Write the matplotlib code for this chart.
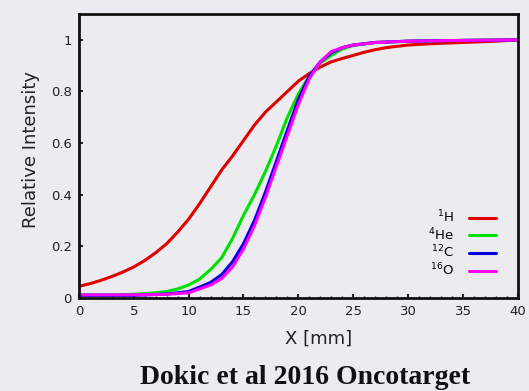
import matplotlib
matplotlib.use("Agg")
import matplotlib.pyplot as plt
from matplotlib.ticker import MultipleLocator

# Data
x_h = [0, 1, 2, 3, 4, 5, 6, 7, 8, 9, 10, 11, 12, 13, 14, 15, 16, 17, 18, 19, 20,
       21, 22, 23, 24, 25, 26, 27, 28, 30, 32, 35, 38, 40]
y_h = [0.045, 0.055, 0.068, 0.083, 0.10, 0.12, 0.145, 0.175, 0.21, 0.255, 0.305,
       0.365, 0.43, 0.495, 0.55, 0.61, 0.67, 0.72, 0.76, 0.80, 0.84, 0.87, 0.895,
       0.915, 0.928, 0.94, 0.952, 0.962, 0.97, 0.98, 0.985, 0.99, 0.995, 1.0]

x_he = [0, 3, 5, 7, 8, 9, 10, 11, 12, 13, 14, 15, 16, 17, 18, 19, 20, 21, 22, 23,
        24, 25, 27, 30, 35, 40]
y_he = [0.012, 0.012, 0.014, 0.02, 0.025, 0.035, 0.05, 0.073, 0.11, 0.155, 0.23,
        0.32, 0.40, 0.49, 0.59, 0.70, 0.79, 0.86, 0.91, 0.94, 0.965, 0.978, 0.99,
        0.995, 0.998, 1.0]

x_c = [0, 5, 8, 10, 11, 12, 13, 14, 15, 16, 17, 18, 19, 20, 21, 22, 23, 24, 25,
       27, 30, 35, 40]
y_c = [0.01, 0.01, 0.015, 0.025, 0.042, 0.06, 0.09, 0.14, 0.21, 0.30, 0.41, 0.53,
       0.65, 0.77, 0.86, 0.915, 0.95, 0.97, 0.98, 0.99, 0.995, 0.998, 1.0]

x_o = [0, 5, 8, 10, 11, 12, 13, 14, 15, 16, 17, 18, 19, 20, 21, 22, 23, 24, 25,
       27, 30, 35, 40]
y_o = [0.012, 0.012, 0.014, 0.02, 0.035, 0.05, 0.075, 0.12, 0.19, 0.28, 0.39, 0.51,
       0.63, 0.75, 0.85, 0.915, 0.955, 0.97, 0.98, 0.99, 0.995, 0.998, 1.0]

labels = ["$^{1}$H", "$^{4}$He", "$^{12}$C", "$^{16}$O"]
colors = ["#e00000", "#00e000", "#0000e0", "#ff00ff"]

x_ticks = [0, 5, 10, 15, 20, 25, 30, 35, 40]
y_ticks = [0, 0.2, 0.4, 0.6, 0.8, 1]
y_ticklabels = ["0", "0.2", "0.4", "0.6", "0.8", "1"]

bg = "#ebebf0"
fig = plt.figure(figsize=(5.29, 3.91), dpi=100, facecolor=bg)
ax = fig.add_axes([0.149, 0.238, 0.830, 0.726], facecolor=bg)

handles = []
for xs, ys, lab, col in zip([x_h, x_he, x_c, x_o], [y_h, y_he, y_c, y_o], labels, colors):
    h, = ax.plot(xs, ys, color=col, lw=2.2, label=lab, solid_capstyle="round")
    handles.append(h)

ax.set_xlim(0, 40)
ax.set_ylim(0, 1.1)
ax.set_xticks(x_ticks)
ax.set_xticklabels([str(t) for t in x_ticks])
ax.set_yticks(y_ticks)
ax.set_yticklabels(y_ticklabels)
ax.xaxis.set_minor_locator(MultipleLocator(1))
ax.tick_params(which="major", direction="in", length=3, width=1.5, labelsize=9.5,
               colors="#222222", pad=5)
ax.tick_params(which="minor", direction="in", length=1.5, width=1, colors="#222222")
ax.tick_params(which="both", top=False, right=False)
for s in ax.spines.values():
    s.set_linewidth(2)
    s.set_color("#111111")

fig.text(319 / 529, 1 - 339 / 391, "X [mm]", ha="center", va="center",
         fontsize=13, color="#222222")
fig.text(31 / 529, 1 - 150 / 391, "Relative Intensity", ha="center", va="center",
         rotation=90, fontsize=13, color="#222222")

leg = fig.legend(handles=handles, labels=labels, loc="upper right",
                 bbox_to_anchor=(503 / 529, 1 - 202 / 391), frameon=False,
                 markerfirst=False, fontsize=9.5, handlelength=2.1, borderpad=0,
                 labelspacing=0.08, handletextpad=1.1)

fig.text(305 / 529, 1 - 378 / 391, "Dokic et al 2016 Oncotarget", ha="center",
         va="center", fontsize=20, fontweight="bold", family="Liberation Serif",
         color="#111111")

fig.savefig("out.png", dpi=100, facecolor=bg)
